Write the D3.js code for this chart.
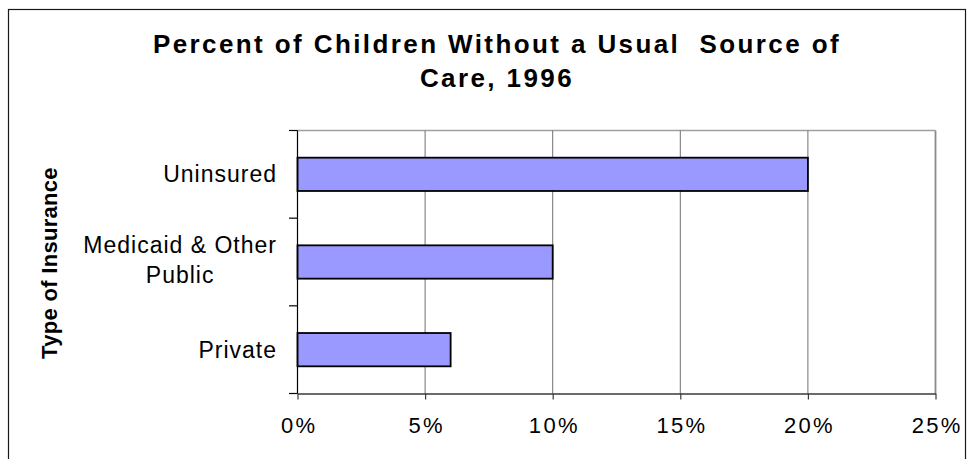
<!DOCTYPE html>
<html>
<head>
<meta charset="utf-8">
<script src="https://cdn.jsdelivr.net/npm/d3@7"></script>
<style>
  html, body { margin: 0; padding: 0; background: #fff; }
  svg { display: block; }
  text { font-family: "Liberation Sans", Arial, sans-serif; fill: #000; }
</style>
</head>
<body>
<svg id="chart" width="975" height="459"></svg>
<script>
// Chart data
const titleLines = ["Percent of Children Without a Usual  Source of", "Care, 1996"];
const yTitle = "Type of Insurance";
const categories = ["Uninsured", "Medicaid & Other Public", "Private"];
const categoryLines = [["Uninsured"], ["Medicaid & Other", "Public"], ["Private"]];
const values = [20, 10, 6];           // percent of children
const xTicks = [0, 5, 10, 15, 20, 25];
const xTickLabels = ["0%", "5%", "10%", "15%", "20%", "25%"];

const svg = d3.select("#chart");

// Frame around the whole chart
svg.append("rect")
  .attr("x", 8.5).attr("y", 9.5)
  .attr("width", 957).attr("height", 470)
  .attr("fill", "none").attr("stroke", "#1a1a1a").attr("stroke-width", 1.2);

const plot = { left: 297.5, right: 935.5, top: 130.5, bottom: 393.5 };

const x = d3.scaleLinear().domain([0, 25]).range([plot.left, plot.right]);
const y = d3.scaleBand().domain(categories)
  .range([plot.top, plot.bottom])
  .paddingInner(0.62).paddingOuter(0.31);

// Title
svg.append("text")
  .attr("text-anchor", "middle")
  .attr("font-size", 26).attr("font-weight", "bold")
  .style("letter-spacing", "2.4px")
  .style("white-space", "pre")
  .selectAll("tspan").data(titleLines).join("tspan")
  .attr("x", 497).attr("y", (d, i) => 52.5 + i * 34.5)
  .text(d => d);

// Plot area top and right borders
svg.append("line")
  .attr("x1", plot.left).attr("x2", plot.right)
  .attr("y1", plot.top).attr("y2", plot.top)
  .attr("stroke", "#a0a0a0").attr("stroke-width", 1.5);
svg.append("line")
  .attr("x1", plot.right).attr("x2", plot.right)
  .attr("y1", plot.top).attr("y2", plot.bottom)
  .attr("stroke", "#8a8a8a").attr("stroke-width", 1.8);

// Vertical gridlines
svg.append("g")
  .selectAll("line").data(xTicks.slice(1, -1)).join("line")
  .attr("x1", d => x(d)).attr("x2", d => x(d))
  .attr("y1", plot.top).attr("y2", plot.bottom)
  .attr("stroke", "#707070").attr("stroke-width", 1);

// Bars
svg.append("g")
  .selectAll("rect").data(categories).join("rect")
  .attr("x", x(0))
  .attr("y", d => y(d))
  .attr("width", (d, i) => x(values[i]) - x(0))
  .attr("height", y.bandwidth())
  .attr("fill", "#9999ff")
  .attr("stroke", "#000").attr("stroke-width", 1.8);

// X axis
const xAxis = d3.axisBottom(x)
  .tickValues(xTicks)
  .tickFormat((d, i) => xTickLabels[i])
  .tickSizeInner(6).tickSizeOuter(0).tickPadding(18);
const gx = svg.append("g")
  .attr("transform", `translate(0,${plot.bottom})`)
  .call(xAxis);
gx.select(".domain").attr("stroke", "#3a3a3a").attr("stroke-width", 1.6);
gx.selectAll(".tick line").attr("stroke", "#3a3a3a").attr("stroke-width", 1.2);
gx.selectAll(".tick text")
  .attr("font-family", null)
  .attr("font-size", 22)
  .attr("fill", "#000")
  .style("letter-spacing", "2.3px")
  .attr("dx", "1.1px");

// Y axis: ticks sit on category boundaries
const boundaries = d3.range(categories.length + 1).map(i => plot.top + i * y.step());
const gy = svg.append("g");
gy.append("line")
  .attr("x1", plot.left).attr("x2", plot.left)
  .attr("y1", plot.top).attr("y2", plot.bottom)
  .attr("stroke", "#000").attr("stroke-width", 1.2);
gy.selectAll("line.tick").data(boundaries).join("line")
  .attr("class", "tick")
  .attr("x1", plot.left - 8.5).attr("x2", plot.left)
  .attr("y1", d => d).attr("y2", d => d)
  .attr("stroke", "#000").attr("stroke-width", 1.2);

// Category labels (multi-line labels centred on each other, block right-aligned)
const labelFont = 23, lineGap = 30;
categories.forEach((c, i) => {
  const lines = categoryLines[i];
  const cy = y(c) + y.bandwidth() / 2;
  const g = svg.append("g");
  const t = g.append("text")
    .attr("font-size", labelFont)
    .attr("text-anchor", "middle")
    .style("letter-spacing", "1px");
  lines.forEach((ln, j) => {
    t.append("tspan")
      .attr("x", 0)
      .attr("y", cy + 8 + (j - (lines.length - 1) / 2) * lineGap - (lines.length > 1 ? 2 : 0))
      .text(ln);
  });
  const bb = t.node().getBBox();
  g.attr("transform", `translate(${276 - (bb.x + bb.width) + 1},0)`);
});

// Y axis title
svg.append("text")
  .attr("transform", "translate(56.5,263) rotate(-90)")
  .attr("text-anchor", "middle")
  .attr("font-size", 22).attr("font-weight", "bold")
  .style("letter-spacing", "0.3px")
  .text(yTitle);
</script>
</body>
</html>
